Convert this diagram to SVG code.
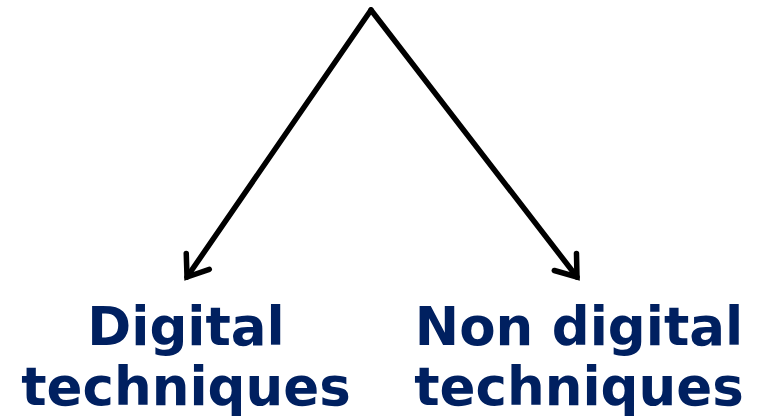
<svg xmlns="http://www.w3.org/2000/svg" width="762" height="417" viewBox="0 0 762 417">
<style>
.lbl{font-family:"DejaVu Sans",Verdana,sans-serif;font-weight:bold;font-size:53px;fill:#002060;text-anchor:middle}
.edge{stroke:#000;stroke-width:5.5;fill:none;stroke-linecap:round;stroke-linejoin:round}
</style>
<defs>
<marker id="arr" markerUnits="userSpaceOnUse" markerWidth="44" markerHeight="44" refX="22" refY="22" orient="auto" viewBox="0 0 44 44">
<path d="M3,8 L22,22 L3,36" fill="none" stroke="#000" stroke-width="5.5" stroke-linecap="round" stroke-linejoin="miter"/>
</marker>
</defs>
<rect width="762" height="417" fill="#fff"/>
<g id="connectors">
<path class="edge" d="M371,10 L187,277" marker-end="url(#arr)"/>
<path class="edge" d="M371,10 L577,277" marker-end="url(#arr)"/>
</g>
<g id="digital">
<text class="lbl" x="186" y="345">Digital</text>
<text class="lbl" x="186" y="405">techniques</text>
</g>
<g id="nondigital">
<text class="lbl" x="579" y="345">Non digital</text>
<text class="lbl" x="579" y="405">techniques</text>
</g>
</svg>
